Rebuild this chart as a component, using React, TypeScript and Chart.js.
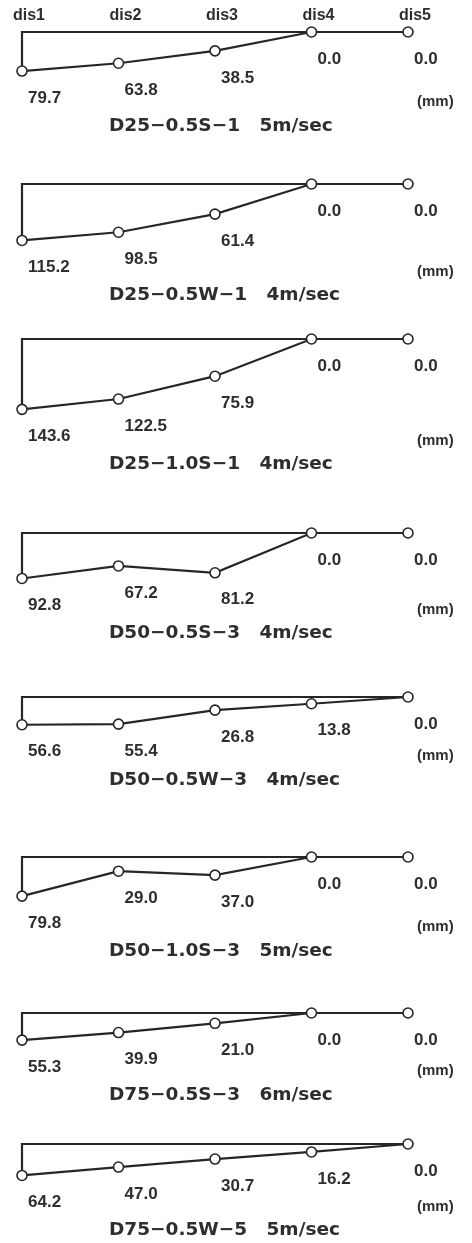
import React, { useEffect, useRef } from 'react';
import { Chart, registerables } from 'chart.js';

Chart.register(...registerables);

// ---- data ----
const categories = ['dis1', 'dis2', 'dis3', 'dis4', 'dis5'];
const d25_05S_1 = [79.7, 63.8, 38.5, 0.0, 0.0];
const d25_05W_1 = [115.2, 98.5, 61.4, 0.0, 0.0];
const d25_10S_1 = [143.6, 122.5, 75.9, 0.0, 0.0];
const d50_05S_3 = [92.8, 67.2, 81.2, 0.0, 0.0];
const d50_05W_3 = [56.6, 55.4, 26.8, 13.8, 0.0];
const d50_10S_3 = [79.8, 29.0, 37.0, 0.0, 0.0];
const d75_05S_3 = [55.3, 39.9, 21.0, 0.0, 0.0];
const d75_05W_5 = [64.2, 47.0, 30.7, 16.2, 0.0];
const titles = [
  'D25\u22120.5S\u22121   5m/sec',
  'D25\u22120.5W\u22121   4m/sec',
  'D25\u22121.0S\u22121   4m/sec',
  'D50\u22120.5S\u22123   4m/sec',
  'D50\u22120.5W\u22123   4m/sec',
  'D50\u22121.0S\u22123   5m/sec',
  'D75\u22120.5S\u22123   6m/sec',
  'D75\u22120.5W\u22125   5m/sec',
];
const seriesList = [d25_05S_1, d25_05W_1, d25_10S_1, d50_05S_3, d50_05W_3, d50_10S_3, d75_05S_3, d75_05W_5];
const unitLabel = '(mm)';

// ---- layout ----
const PAGE_W = 472;
const PAGE_H = 1243;
const PX_PER_MM = 0.49;
const BASE_OFFSET = 32;
const CANVAS_H = 172;
const panelBaselines = [32, 184, 339, 533, 697, 857, 1013, 1144];
const LINE = '#262626';
const TEXT = '#2e2e2e';
const LABEL_FONT = '"Liberation Sans", Arial, sans-serif';
const TITLE_FONT = '"DejaVu Sans", sans-serif';

const annotPlugin = {
  id: 'annot',
  afterDatasetsDraw(chart: any, _args: any, opts: any) {
    const ctx = chart.ctx;
    const meta = chart.getDatasetMeta(0);
    const xs = chart.scales.x;
    const ys = chart.scales.y;
    const vals: number[] = opts.values;
    ctx.save();
    ctx.fillStyle = TEXT;
    ctx.textBaseline = 'middle';
    ctx.textAlign = 'left';
    ctx.font = `bold 17px ${LABEL_FONT}`;
    meta.data.forEach((pt: any, i: number) => {
      ctx.fillText(vals[i].toFixed(1), pt.x + 6, pt.y + 27);
    });
    const lowest = ys.getPixelForValue(Math.max(...vals));
    ctx.font = `bold 15px ${LABEL_FONT}`;
    ctx.fillText(unitLabel, chart.chartArea.right + 9, lowest + 31);
    ctx.font = `bold 18.5px ${TITLE_FONT}`;
    ctx.fillText(opts.title, chart.chartArea.left + 87, lowest + 55);
    if (opts.showCategories) {
      ctx.font = `bold 16px ${LABEL_FONT}`;
      ctx.textAlign = 'center';
      const base = ys.getPixelForValue(0);
      categories.forEach((c, i) => {
        ctx.fillText(c, xs.getPixelForValue(i) + 7, base - 16);
      });
    }
    ctx.restore();
  },
};

function Panel({ values, title, top, showCategories }: { values: number[]; title: string; top: number; showCategories: boolean }) {
  const ref = useRef<HTMLCanvasElement>(null);
  useEffect(() => {
    const canvas = ref.current!;
    const chart = new Chart(canvas, {
      type: 'line',
      data: {
        labels: categories,
        datasets: [
          {
            data: values,
            borderColor: LINE,
            borderWidth: 2.2,
            pointRadius: 5,
            pointBorderWidth: 1.6,
            pointBackgroundColor: '#ffffff',
            pointBorderColor: LINE,
            tension: 0,
            clip: false as any,
          },
          {
            data: [
              { x: categories[0], y: values[0] },
              { x: categories[0], y: 0 },
              { x: categories[categories.length - 1], y: 0 },
            ] as any,
            borderColor: LINE,
            borderWidth: 2.2,
            pointRadius: 0,
            tension: 0,
            clip: false as any,
          },
        ],
      },
      options: {
        animation: false,
        responsive: false,
        devicePixelRatio: 1,
        layout: { autoPadding: false, padding: { left: 22, right: 64, top: 0, bottom: 0 } } as any,
        scales: {
          x: { type: 'category', offset: false, display: false },
          y: {
            type: 'linear',
            reverse: true,
            display: false,
            min: -BASE_OFFSET / PX_PER_MM,
            max: (CANVAS_H - BASE_OFFSET) / PX_PER_MM,
          },
        },
        plugins: {
          legend: { display: false },
          tooltip: { enabled: false },
          title: { display: false },
          annot: { values, title, showCategories } as any,
        } as any,
      },
      plugins: [annotPlugin],
    });
    return () => chart.destroy();
  }, [values, title, showCategories]);
  return (
    <canvas
      ref={ref}
      width={PAGE_W}
      height={CANVAS_H}
      style={{ position: 'absolute', left: 0, top, width: PAGE_W, height: CANVAS_H }}
    />
  );
}

export default function App() {
  return (
    <div
      style={{
        position: 'absolute',
        left: 0,
        top: 0,
        width: PAGE_W,
        height: PAGE_H,
        overflow: 'hidden',
        background: '#ffffff',
      }}
    >
      {seriesList.map((vals, i) => (
        <Panel
          key={i}
          values={vals}
          title={titles[i]}
          top={panelBaselines[i] - BASE_OFFSET}
          showCategories={i === 0}
        />
      ))}
    </div>
  );
}
